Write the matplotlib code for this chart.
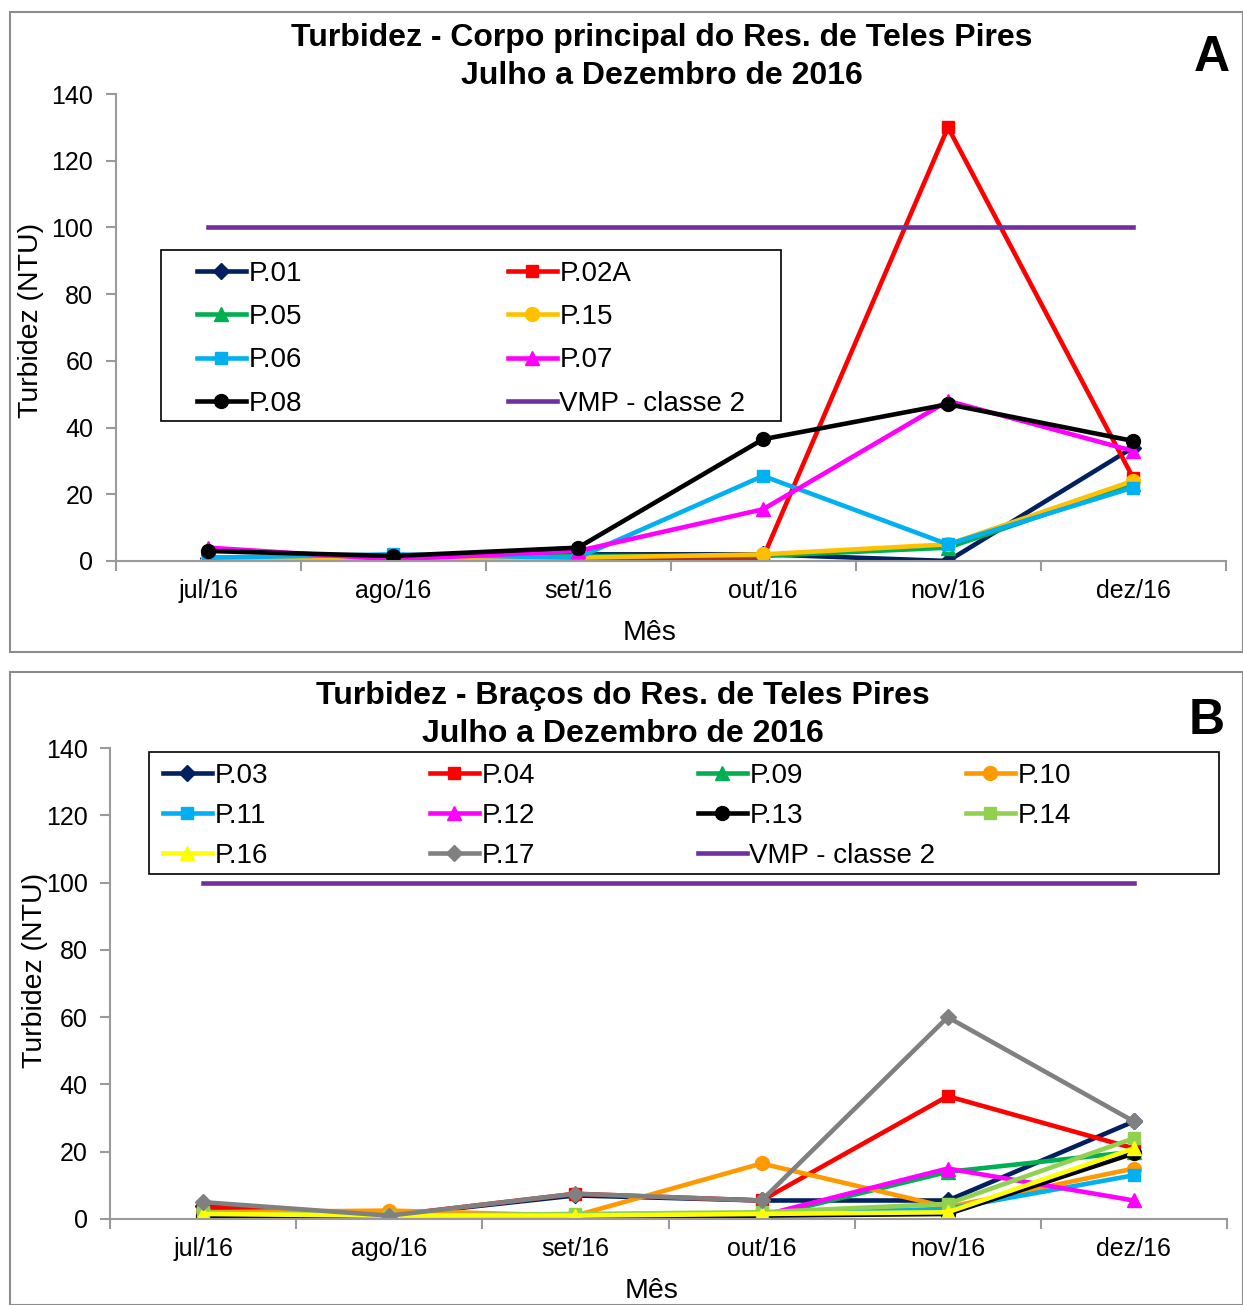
import numpy as np
import matplotlib
matplotlib.use('Agg')
from matplotlib import pyplot as plt
from matplotlib.patches import Rectangle

plt.rcParams['font.family'] = ['Liberation Sans', 'DejaVu Sans']

meses = ['jul/16', 'ago/16', 'set/16', 'out/16', 'nov/16', 'dez/16']
vmp = 100

# Painel A - corpo principal
a_p01 = [1, 1, 2, 2, 0, 34]
a_p02a = [1, 0.5, 1, 1, 130, 25]
a_p05 = [1, 0.5, 1.5, 1.5, 4, 23]
a_p15 = [1, 0.5, 1, 2, 5, 24]
a_p06 = [1, 2, 1, 25.5, 5, 22]
a_p07 = [4, 0.5, 3, 15.5, 48, 33]
a_p08 = [3, 1.5, 4, 36.5, 47, 36]

# Painel B - bracos
b_p03 = [4, 1, 7, 5.5, 5.5, 29]
b_p04 = [3.5, 1, 7.5, 5.5, 36.5, 21]
b_p09 = [0.5, 0.5, 0.5, 0.5, 14, 20]
b_p10 = [2, 2.5, 1, 16.5, 3.5, 15]
b_p11 = [1.5, 0.5, 1, 1.5, 3, 13]
b_p12 = [0.5, 0.5, 0.5, 1, 15, 5.5]
b_p13 = [1, 0.5, 1, 1, 1.5, 19.5]
b_p14 = [2, 1, 1.5, 2, 4.5, 24]
b_p16 = [1.5, 1, 1, 1.5, 2, 21]
b_p17 = [5, 1, 7.5, 5.5, 60, 29]

W, H = 1243, 1305
fig = plt.figure(figsize=(W / 100, H / 100), dpi=100)
fig.patch.set_facecolor('white')

# molduras dos graficos
for (x0, y0, x1, y1) in [(10, 12, 1243, 652), (10, 672, 1243, 1305)]:
    fig.patches.append(Rectangle((x0 / W, 1 - y1 / H), (x1 - x0) / W, (y1 - y0) / H,
                                 transform=fig.transFigure, fill=False,
                                 edgecolor='#8c8c8c', lw=1.5))

x = np.arange(len(meses))
LW = 3.3
AXC = '#9a9a9a'
FS_TICK = 18
FS_LAB = 20.5
FS_LEG = 20


def estilo_eixo(ax):
    ax.set_xlim(-0.5, 5.5)
    ax.set_ylim(0, 140)
    ax.set_yticks(np.arange(0, 141, 20))
    ax.set_xticks(np.arange(-0.5, 6, 1))
    ax.set_xticklabels([])
    ax.set_xticks(x, minor=True)
    ax.set_xticklabels(meses, minor=True, fontsize=FS_TICK)
    ax.tick_params(axis='x', which='minor', length=0, pad=13)
    ax.tick_params(axis='x', which='major', length=7, width=1.5, color=AXC, direction='out')
    ax.tick_params(axis='y', length=7, width=1.5, color=AXC, direction='out', labelsize=FS_TICK, pad=9)
    for s in ['top', 'right']:
        ax.spines[s].set_visible(False)
    for s in ['left', 'bottom']:
        ax.spines[s].set_color(AXC)
        ax.spines[s].set_linewidth(1.5)


def legenda(handles, labels, x0, y0, ls):
    fig.legend(handles, labels, loc='upper left', bbox_to_anchor=(x0 / W, 1 - y0 / H),
               frameon=False, fontsize=FS_LEG, borderpad=0, handlelength=1.75,
               handletextpad=0.1, labelspacing=ls, borderaxespad=0)


def texto(px, py, s, **kw):
    fig.text(px / W, 1 - py / H, s, ha='center', va='center', **kw)


# ---------- A ----------
axA = fig.add_axes([115.5 / W, 1 - 561 / H, 1110 / W, 467 / H])
seriesA = [
    ('P.01', a_p01, '#002060', 'D', 8.5),
    ('P.02A', a_p02a, '#ff0000', 's', 8.5),
    ('P.05', a_p05, '#00b050', '^', 10),
    ('P.15', a_p15, '#ffc000', 'o', 10),
    ('P.06', a_p06, '#00b0f0', 's', 8.5),
    ('P.07', a_p07, '#ff00ff', '^', 10),
    ('P.08', a_p08, '#000000', 'o', 10),
]
hA = {}
for nome, vals, cor, mk, ms in seriesA:
    hA[nome], = axA.plot(x, vals, color=cor, marker=mk, ms=ms, lw=LW, label=nome)
hA['VMP - classe 2'], = axA.plot(x, [vmp] * len(x), color='#7030a0', lw=LW)
estilo_eixo(axA)

fig.patches.append(Rectangle((161 / W, 1 - 421 / H), 620 / W, 171 / H,
                             transform=fig.transFigure, fill=False, edgecolor='black', lw=1.2))
col1 = ['P.01', 'P.05', 'P.06', 'P.08']
col2 = ['P.02A', 'P.15', 'P.07', 'VMP - classe 2']
legenda([hA[k] for k in col1], col1, 197, 261, 0.62)
legenda([hA[k] for k in col2], col2, 508, 261, 0.62)

texto(662, 38, 'Turbidez - Corpo principal do Res. de Teles Pires', fontsize=23, fontweight='bold')
texto(662, 76, 'Julho a Dezembro de 2016', fontsize=23, fontweight='bold')
texto(1212, 58, 'A', fontsize=36, fontweight='bold')
texto(31, 320, 'Turbidez (NTU)', fontsize=FS_LAB, rotation=90)
texto(650, 633, 'Mês', fontsize=FS_LAB)

# ---------- B ----------
axB = fig.add_axes([110 / W, 1 - 1219 / H, 1117 / W, 471 / H])
seriesB = [
    ('P.03', b_p03, '#002060', 'D', 8.5),
    ('P.04', b_p04, '#ff0000', 's', 8.5),
    ('P.09', b_p09, '#00b050', '^', 10),
    ('P.10', b_p10, '#ff9900', 'o', 10),
    ('P.11', b_p11, '#00b0f0', 's', 8.5),
    ('P.12', b_p12, '#ff00ff', '^', 10),
    ('P.13', b_p13, '#000000', 'o', 10),
    ('P.14', b_p14, '#92d050', 's', 8.5),
    ('P.16', b_p16, '#ffff00', '^', 10),
    ('P.17', b_p17, '#808080', 'D', 8.5),
]
hB = {}
for nome, vals, cor, mk, ms in seriesB:
    hB[nome], = axB.plot(x, vals, color=cor, marker=mk, ms=ms, lw=LW, label=nome)
hB['VMP - classe 2'], = axB.plot(x, [vmp] * len(x), color='#7030a0', lw=LW)
estilo_eixo(axB)

fig.patches.append(Rectangle((149 / W, 1 - 874 / H), 1070 / W, 122 / H,
                             transform=fig.transFigure, fill=False, edgecolor='black', lw=1.2))
colsB = [(['P.03', 'P.11', 'P.16'], 163),
         (['P.04', 'P.12', 'P.17'], 430),
         (['P.09', 'P.13', 'VMP - classe 2'], 698),
         (['P.10', 'P.14'], 966)]
for nomes, xc in colsB:
    legenda([hB[k] for k in nomes], nomes, xc, 763, 0.5)

texto(623, 696, 'Turbidez - Braços do Res. de Teles Pires', fontsize=23, fontweight='bold')
texto(623, 734, 'Julho a Dezembro de 2016', fontsize=23, fontweight='bold')
texto(1207, 721, 'B', fontsize=36, fontweight='bold')
texto(35, 970, 'Turbidez (NTU)', fontsize=FS_LAB, rotation=90)
texto(652, 1291, 'Mês', fontsize=FS_LAB)

fig.savefig('out.png', dpi=100, facecolor='white')
